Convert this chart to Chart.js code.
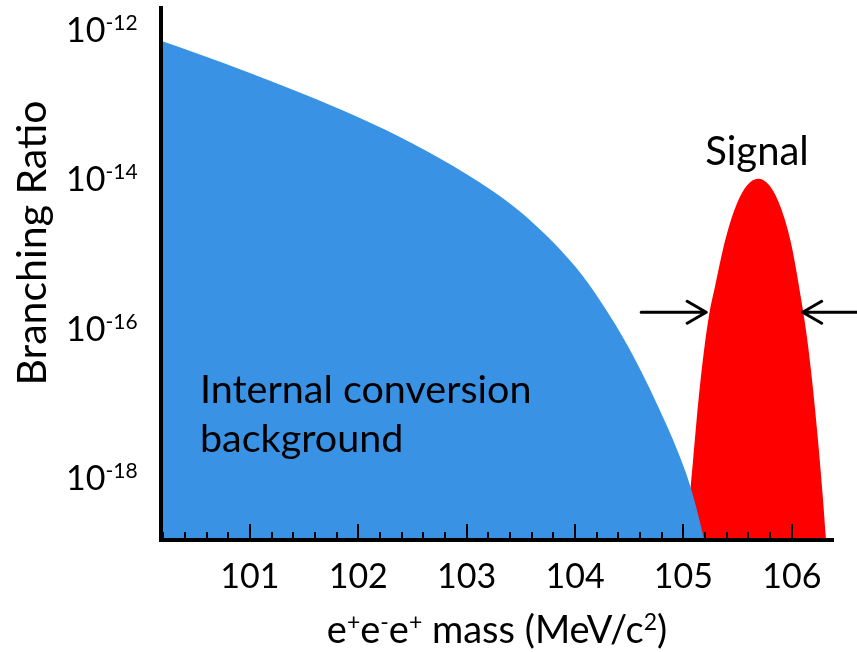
<!DOCTYPE html>
<html>
<head>
<meta charset="utf-8">
<script src="https://cdn.jsdelivr.net/npm/chart.js@4.4.1/dist/chart.umd.min.js"></script>
<style>
html,body{margin:0;padding:0;background:#fff;}
#wrap{width:857px;height:652px;position:relative;}
</style>
</head>
<body>
<div id="wrap"><canvas id="c" width="857" height="652"></canvas></div>
<script>
// ---- data ----
const bgMass  = [100.17, 100.5, 101.0, 101.5, 102.0, 102.5, 103.0, 103.5, 104.0, 104.25, 104.5, 104.75, 105.0, 105.1, 105.2, 105.3];
const bgRatio = [7.24e-13, 4.9e-13, 2.66e-13, 1.38e-13, 6.76e-14, 3.02e-14, 1.17e-14, 3.63e-15, 6.84e-16, 2.16e-16, 5.43e-17, 1.02e-17, 1.45e-18, 5.1e-19, 1.29e-19, 2.5e-20];

const sigMass  = [104.99, 105.04, 105.09, 105.14, 105.19, 105.24, 105.29, 105.39, 105.49, 105.59, 105.69,
                  105.79, 105.89, 105.99, 106.09, 106.14, 106.19, 106.24, 106.29, 106.34];
const sigRatio = [4.1e-20, 2.9e-19, 1.8e-18, 1.15e-17, 5.1e-17, 1.62e-16, 3.6e-16, 1.62e-15, 4.6e-15, 8.4e-15, 1.02e-14,
                  8.4e-15, 4.5e-15, 1.46e-15, 2.3e-16, 7.6e-17, 1.86e-17, 3.4e-18, 4.7e-19, 4.6e-20];

const xMajorTicks = [101, 102, 103, 104, 105, 106];
const xMinorTicks = [100.2, 100.4, 100.6, 100.8, 101.2, 101.4, 101.6, 101.8, 102.2, 102.4, 102.6, 102.8,
                     103.2, 103.4, 103.6, 103.8, 104.2, 104.4, 104.6, 104.8, 105.2, 105.4, 105.6, 105.8];
const yTickValues = [1e-12, 1e-14, 1e-16, 1e-18];
const yTickExponents = ['-12', '-14', '-16', '-18'];

const xTitleParts = [['e',0],['+',1],['e',0],['-',1],['e',0],['+',1],[' mass (MeV/c',0],['2',1],[')',0]];
const yTitle = 'Branching Ratio';
const bgLabel = ['Internal conversion', 'background'];
const sigLabel = 'Signal';

// ---- styling ----
const BLUE = '#3a92e4';
const RED = '#ff0000';
const FONT = 'Lato, "Open Sans", sans-serif';

function pts(xs, ys){ return xs.map((x,i)=>({x:x, y:ys[i]})); }

function drawSup(ctx, parts, x, y, size, supSize, align){
  let w = 0;
  parts.forEach(p=>{ ctx.font = (p[1]?supSize:size)+'px '+FONT; w += ctx.measureText(p[0]).width; });
  let cx = align==='center' ? x - w/2 : (align==='right' ? x - w : x);
  ctx.textAlign = 'left';
  ctx.textBaseline = 'alphabetic';
  parts.forEach(p=>{
    ctx.font = (p[1]?supSize:size)+'px '+FONT;
    ctx.fillText(p[0], cx, p[1] ? y - size*0.35 : y);
    cx += ctx.measureText(p[0]).width;
  });
}

const overlay = {
  id: 'overlay',
  afterDatasetsDraw(chart){
    const ctx = chart.ctx, xs = chart.scales.x, ca = chart.chartArea;
    ctx.save();
    ctx.strokeStyle = '#000';
    ctx.lineWidth = 2;
    xMajorTicks.forEach(v=>{
      const px = Math.round(xs.getPixelForValue(v));
      ctx.beginPath(); ctx.moveTo(px, ca.bottom); ctx.lineTo(px, ca.bottom-16); ctx.stroke();
    });
    xMinorTicks.forEach(v=>{
      const px = Math.round(xs.getPixelForValue(v));
      ctx.beginPath(); ctx.moveTo(px, ca.bottom); ctx.lineTo(px, ca.bottom-8); ctx.stroke();
    });
    ctx.restore();
  },
  afterDraw(chart){
    const ctx = chart.ctx, xs = chart.scales.x, ys = chart.scales.y, ca = chart.chartArea;
    ctx.save();
    ctx.fillStyle = '#000';
    // y tick labels 10^n
    yTickValues.forEach((v,i)=>{
      const py = ys.getPixelForValue(v);
      drawSup(ctx, [['10',0],[yTickExponents[i],1]], 66, py+12, 34, 21, 'left');
    });
    // x tick labels
    ctx.font = '34px '+FONT;
    ctx.textAlign = 'center';
    ctx.textBaseline = 'alphabetic';
    xMajorTicks.forEach(v=>{
      ctx.fillText(String(v), xs.getPixelForValue(v), 588);
    });
    // x title
    drawSup(ctx, xTitleParts, (ca.left+ca.right)/2, 643, 38, 23, 'center');
    // y title
    ctx.save();
    ctx.translate(46, 243);
    ctx.rotate(-Math.PI/2);
    ctx.font = '41px '+FONT;
    ctx.textAlign = 'center';
    ctx.textBaseline = 'alphabetic';
    ctx.fillText(yTitle, 0, 0);
    ctx.restore();
    // annotations
    ctx.font = '39.5px '+FONT;
    ctx.textAlign = 'left';
    ctx.fillText(bgLabel[0], 200, 403);
    ctx.fillText(bgLabel[1], 200, 452);
    ctx.textAlign = 'center';
    ctx.font = '40px '+FONT;
    ctx.fillText(sigLabel, 757, 165);
    // arrows (FWHM markers) in data coordinates
    const ay = ys.getPixelForValue(1.66e-16);
    const lTip = xs.getPixelForValue(105.21), lTail = xs.getPixelForValue(104.61);
    const rTip = xs.getPixelForValue(106.10), rTail = 857;
    ctx.strokeStyle = '#000';
    ctx.lineWidth = 3;
    ctx.lineCap = 'round';
    ctx.lineJoin = 'round';
    ctx.beginPath();
    ctx.moveTo(lTail, ay); ctx.lineTo(lTip, ay);
    ctx.moveTo(lTip-19, ay-11); ctx.lineTo(lTip, ay); ctx.lineTo(lTip-19, ay+11);
    ctx.moveTo(rTail, ay); ctx.lineTo(rTip, ay);
    ctx.moveTo(rTip+19, ay-11); ctx.lineTo(rTip, ay); ctx.lineTo(rTip+19, ay+11);
    ctx.stroke();
    ctx.restore();
  }
};

new Chart(document.getElementById('c'), {
  type: 'line',
  data: {
    datasets: [
      { label: 'Internal conversion background', data: pts(bgMass, bgRatio),
        backgroundColor: BLUE, borderColor: BLUE, borderWidth: 0, pointRadius: 0,
        fill: 'start', cubicInterpolationMode: 'monotone' },
      { label: 'Signal', data: pts(sigMass, sigRatio),
        backgroundColor: RED, borderColor: RED, borderWidth: 0, pointRadius: 0,
        fill: 'start', cubicInterpolationMode: 'monotone' }
    ]
  },
  options: {
    responsive: false,
    animation: false,
    events: [],
    layout: { padding: { top: 8, right: 24, left: 0, bottom: 0 } },
    plugins: { legend: { display: false }, tooltip: { enabled: false }, title: { display: false } },
    scales: {
      x: {
        type: 'linear', min: 100.18, max: 106.38,
        grid: { display: false, drawTicks: false },
        ticks: { display: false },
        border: { display: true, color: '#000', width: 4, z: 1 },
        afterFit: s => { s.height = 112; }
      },
      y: {
        type: 'logarithmic', min: 1.48e-19, max: 1.97e-12,
        grid: { display: false, drawTicks: false },
        ticks: { display: false },
        border: { display: true, color: '#000', width: 4, z: 1 },
        afterFit: s => { s.width = 161; }
      }
    }
  },
  plugins: [overlay]
});
</script>
</body>
</html>
